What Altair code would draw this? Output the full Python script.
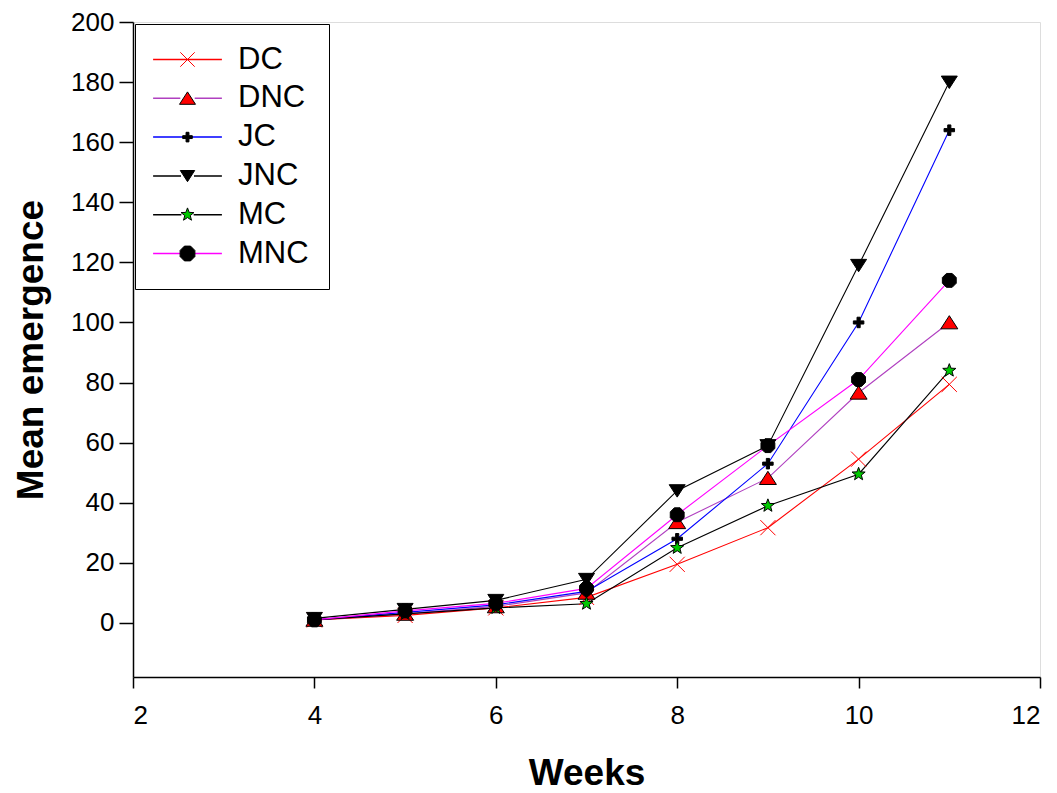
import math
import altair as alt
import pandas as pd

# ---------------- data ----------------
weeks = [4, 5, 6, 7, 8, 9, 10, 11]
series_names = ["DC", "DNC", "JC", "JNC", "MC", "MNC"]
dc = [1, 2.5, 5, 8.5, 19.5, 31.7, 54.5, 79.4]
dnc = [1, 3, 5.5, 10, 33.5, 48.2, 76.6, 100]
jc = [1, 3.5, 6, 10.5, 28, 53, 100, 164]
jnc = [1.5, 4.5, 7.5, 14.5, 44, 59, 119, 180]
mc = [1, 3, 5, 6.4, 25, 39, 49.5, 84]
mnc = [1, 4, 6.5, 11.5, 36, 59, 81, 114]
x_ticks = [2, 4, 6, 8, 10, 12]
y_ticks = [0, 20, 40, 60, 80, 100, 120, 140, 160, 180, 200]

series_values = {"DC": dc, "DNC": dnc, "JC": jc, "JNC": jnc, "MC": mc, "MNC": mnc}
rows = []
for name in series_names:
    for w, v in zip(weeks, series_values[name]):
        rows.append({"series": name, "series2": name, "week": w, "value": v})
df = pd.DataFrame(rows)

# ---------------- styles ----------------
FONT = "Liberation Sans"
line_colors = {"DC": "#FF0000", "DNC": "#B040C0", "JC": "#0000FF",
               "JNC": "#000000", "MC": "#000000", "MNC": "#FF00FF"}
marker_fill = {"DC": "transparent", "DNC": "#FF0000", "JC": "#000000",
               "JNC": "#000000", "MC": "#00C800", "MNC": "#000000"}
marker_stroke = {"DC": "#FF0000", "DNC": "#000000", "JC": "#000000",
                 "JNC": "#000000", "MC": "#000000", "MNC": "#000000"}


def poly(pts, s=1.0):
    return "M" + "L".join(f"{x*s:.3f},{y*s:.3f}" for x, y in pts) + "Z"


def xpath(s=1.0):
    return f"M{-s},{-s}L{s},{s}M{-s},{s}L{s},{-s}"


tri_up = [(0, -0.8), (1, 0.75), (-1, 0.75)]
tri_down = [(0, 0.8), (1, -0.75), (-1, -0.75)]
plus = [(-0.3, -1), (0.3, -1), (0.3, -0.3), (1, -0.3), (1, 0.3), (0.3, 0.3), (0.3, 1),
        (-0.3, 1), (-0.3, 0.3), (-1, 0.3), (-1, -0.3), (-0.3, -0.3)]
star = []
for i in range(10):
    ang = math.radians(-90 + 36 * i)
    r = 1.0 if i % 2 == 0 else 0.42
    star.append((r * math.cos(ang), r * math.sin(ang)))
octa = [(math.cos(math.radians(22.5 + 45 * i)), math.sin(math.radians(22.5 + 45 * i))) for i in range(8)]

marker_shape = {"DC": xpath(), "DNC": poly(tri_up), "JC": poly(plus),
                "JNC": poly(tri_down), "MC": poly(star), "MNC": poly(octa)}
marker_size = {"DC": 230, "DNC": 289, "JC": 110, "JNC": 256, "MC": 190, "MNC": 225}

# legend symbols (symbolSize 256 -> unit = 8px)
leg_scale = {"DC": 0.9, "DNC": 1.0, "JC": 0.6, "JNC": 0.9, "MC": 0.85, "MNC": 1.0}
leg_marker = {"DC": xpath(0.9), "DNC": poly(tri_up, 1.0), "JC": poly(plus, 0.6),
              "JNC": poly(tri_down, 0.9), "MC": poly(star, 0.85), "MNC": poly(octa, 1.0)}
HALF = 4.3
leg_line = {}
for n in series_names:
    g = 0 if n == "DC" else leg_scale[n] * 0.9
    if g == 0:
        leg_line[n] = f"M{-HALF},0H{HALF}"
    else:
        leg_line[n] = f"M{-HALF},0H{-g:.2f}M{g:.2f},0H{HALF}"

X = alt.X("week:Q", scale=alt.Scale(domain=[2, 12], nice=False, zero=False),
          axis=alt.Axis(values=x_ticks, title="Weeks", grid=False, format="d",
                        tickSize=11, tickWidth=1.5, tickColor="black",
                        domainColor="black", domainWidth=1.5,
                        labelFont=FONT, labelFontSize=26, labelColor="black", labelPadding=14,
                        titleFont=FONT, titleFontSize=37, titleFontWeight="bold",
                        titleColor="black", titlePadding=27))
Y = alt.Y("value:Q", scale=alt.Scale(domain=[-18, 200], nice=False, zero=False),
          axis=alt.Axis(values=y_ticks, title="Mean emergence", grid=False,
                        tickSize=14, tickWidth=1.5, tickColor="black",
                        domainColor="black", domainWidth=1.5,
                        labelFont=FONT, labelFontSize=26, labelColor="black", labelPadding=5,
                        titleFont=FONT, titleFontSize=37, titleFontWeight="bold",
                        titleColor="black", titlePadding=20))

layers = []
for n in series_names:
    sub = alt.Chart(df).transform_filter(alt.datum.series == n)
    layers.append(sub.mark_line(color=line_colors[n], strokeWidth=1.1).encode(x=X, y=Y))
for n in series_names:
    sub = alt.Chart(df).transform_filter(alt.datum.series == n)
    layers.append(sub.mark_point(shape=marker_shape[n], size=marker_size[n],
                                 filled=(n != "DC"), fill=marker_fill[n],
                                 stroke=marker_stroke[n], strokeWidth=1,
                                 opacity=1).encode(x=X, y=Y))

common_leg = dict(title=None, orient="none", legendX=2, legendY=2, padding=20,
                  symbolSize=256, symbolOffset=17,
                  labelOffset=35, labelFont=FONT, labelFontSize=31, labelColor="black",
                  rowPadding=6.8)

legA = alt.Legend(strokeColor="black", symbolStrokeWidth=1.5, **common_leg)
legB = alt.Legend(labelOpacity=0, symbolStrokeWidth=1.0, **common_leg)

empty = alt.Chart(df).transform_filter("datum.week < 0")
layer_legA = empty.mark_point(filled=False, strokeWidth=1.5, opacity=1).encode(
    x=X, y=Y,
    shape=alt.Shape("series:N", scale=alt.Scale(domain=series_names,
                                                range=[leg_line[n] for n in series_names]),
                    legend=legA),
    stroke=alt.Stroke("series:N", scale=alt.Scale(domain=series_names,
                                                  range=[line_colors[n] for n in series_names]),
                      legend=legA),
)
layer_legB = empty.mark_point(filled=True, strokeWidth=1.0, opacity=1).encode(
    x=X, y=Y,
    shape=alt.Shape("series2:N", scale=alt.Scale(domain=series_names,
                                                 range=[leg_marker[n] for n in series_names]),
                    legend=legB),
    fill=alt.Fill("series2:N", scale=alt.Scale(domain=series_names,
                                               range=[marker_fill[n] for n in series_names]),
                  legend=legB),
    stroke=alt.Stroke("series2:N", scale=alt.Scale(domain=series_names,
                                                   range=[marker_stroke[n] for n in series_names]),
                      legend=legB),
)

chart = alt.layer(*layers, layer_legA, layer_legB).resolve_scale(
    shape="independent", stroke="independent", fill="independent"
).properties(
    width=907, height=655,
    padding={"left": 4, "top": 1, "right": 5, "bottom": 5},
).configure_view(
    stroke="black", strokeWidth=1.5
).configure(background="white")

chart.save("out.html", embed_options={"renderer": "svg", "actions": False})
